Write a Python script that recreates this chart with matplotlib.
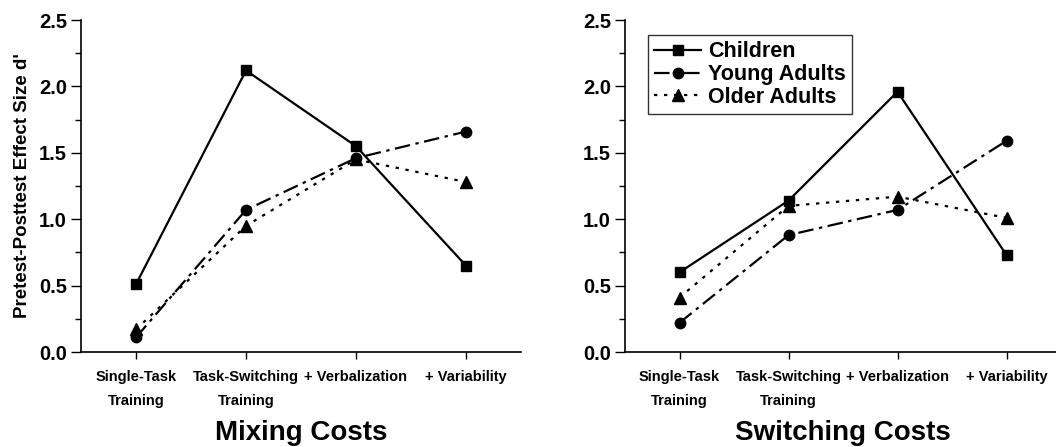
import matplotlib
matplotlib.use("Agg")
import matplotlib.pyplot as plt
from matplotlib.ticker import MultipleLocator

plt.rcParams['font.family'] = ['Liberation Sans', 'DejaVu Sans']
plt.rcParams['font.weight'] = 'bold'

categories = ["Single-Task\nTraining", "Task-Switching\nTraining", "+ Verbalization", "+ Variability"]
groups = ["Children", "Young Adults", "Older Adults"]

mixing_children = [0.51, 2.12, 1.55, 0.65]
mixing_young = [0.11, 1.07, 1.46, 1.66]
mixing_older = [0.17, 0.95, 1.45, 1.28]

switching_children = [0.60, 1.14, 1.96, 0.73]
switching_young = [0.22, 0.88, 1.07, 1.59]
switching_older = [0.41, 1.10, 1.17, 1.01]

panel_titles = ["Mixing Costs", "Switching Costs"]
ylabel = "Pretest-Posttest Effect Size d'"

styles = [
    dict(linestyle='-', marker='s', markersize=7.5),
    dict(linestyle=(0, (7, 2.5, 1.5, 2.5)), marker='o', markersize=7.5),
    dict(linestyle=(0, (1.5, 3)), marker='^', markersize=8.5),
]

fig = plt.figure(figsize=(10.56, 4.47), dpi=100)
W, H = 1056, 447
ax1 = fig.add_axes([81 / W, 95 / H, 440 / W, 332 / H])
ax2 = fig.add_axes([625 / W, 95 / H, 436 / W, 332 / H])

x = list(range(1, len(categories) + 1))
data = [
    [mixing_children, mixing_young, mixing_older],
    [switching_children, switching_young, switching_older],
]

for ax, series, title in zip([ax1, ax2], data, panel_titles):
    for vals, name, st in zip(series, groups, styles):
        ax.plot(x, vals, color='black', linewidth=1.6, label=name,
                markerfacecolor='black', markeredgecolor='black', **st)
    ax.set_xlim(0.5, 4.5)
    ax.set_ylim(0, 2.5)
    ax.yaxis.set_major_locator(MultipleLocator(0.5))
    ax.yaxis.set_minor_locator(MultipleLocator(0.25))
    ax.yaxis.set_major_formatter(matplotlib.ticker.FormatStrFormatter('%.1f'))
    ax.set_xticks(x)
    ax.set_xticklabels(categories, fontsize=10.5, fontweight='bold', linespacing=1.9)
    ax.tick_params(axis='y', which='major', labelsize=14.5, length=7, width=1, direction='out', pad=3)
    ax.tick_params(axis='y', which='minor', length=4, width=1, direction='out')
    ax.tick_params(axis='x', length=5, width=1, direction='out', pad=8)
    for lbl in ax.get_yticklabels():
        lbl.set_fontweight('bold')
    for s in ['top', 'right']:
        ax.spines[s].set_visible(False)
    for s in ['left', 'bottom']:
        ax.spines[s].set_linewidth(1.2)
    ax.text(0.5, -0.205, title, transform=ax.transAxes, ha='center', va='top',
            fontsize=20, fontweight='bold')
    ax.patch.set_alpha(0)

ax1.set_ylabel(ylabel, fontsize=13.5, fontweight='bold', labelpad=6)

leg = ax2.legend(loc='upper left', bbox_to_anchor=(0.052, 0.955), frameon=True,
                 fancybox=False, edgecolor='black',
                 prop={'weight': 'bold', 'size': 15.5}, handlelength=2.2,
                 handletextpad=0.3, borderpad=0.3, labelspacing=0.08,
                 borderaxespad=0)
leg.get_frame().set_linewidth(1.0)

fig.savefig("out.png", dpi=100)
